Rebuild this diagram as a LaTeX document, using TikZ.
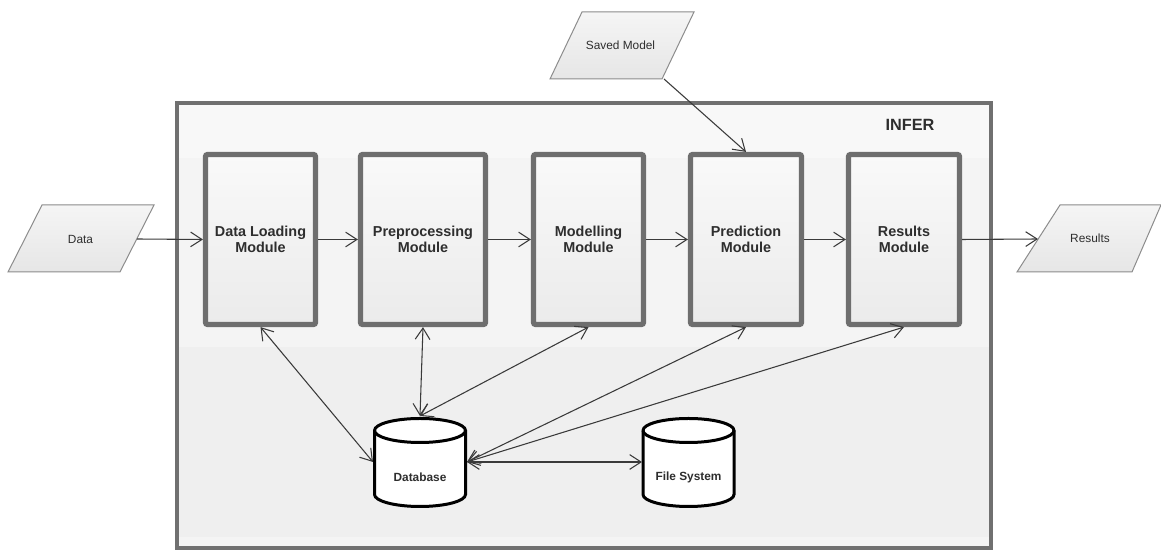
\documentclass[tikz,border=0pt]{standalone}
\usepackage{fontspec}
\setmainfont{Liberation Sans}
\usetikzlibrary{arrows.meta}
\definecolor{boxgray}{HTML}{6E6E6E}
\definecolor{outergray}{HTML}{707070}
\definecolor{modtop}{HTML}{F9F9F9}
\definecolor{modbot}{HTML}{EBEBEB}
\definecolor{textdark}{HTML}{2E2E2E}
\definecolor{linegray}{HTML}{3A3A3A}
\definecolor{paragray}{HTML}{8C8C8C}
\definecolor{paratop}{HTML}{F5F5F5}
\definecolor{parabot}{HTML}{E6E6E6}
\definecolor{bgA}{HTML}{F8F8F8}
\definecolor{bgB}{HTML}{F4F4F4}
\definecolor{bgC}{HTML}{EFEFEF}
\newcommand\drawcyl[4]{% center x, radius, ytop, ybot
  \path[cyl] (#1-#2,#3) -- (#1-#2,#4) arc (180:360:#2 and 12) -- (#1+#2,#3) arc (0:180:#2 and 12) -- cycle;
  \draw[cyl,fill=none] (#1-#2,#3) arc (180:360:#2 and 12);
}
\begin{document}
\begin{tikzpicture}[x=0.75pt,y=0.75pt,
  module/.style={draw=boxgray,line width=3.9pt,rounded corners=1.5pt,top color=modtop,bottom color=modbot,minimum height=127.5pt,align=center,text=textdark,font=\fontsize{10.8}{12}\selectfont\bfseries,inner sep=0pt},
  barb/.tip={Straight Barb[length=8.5pt,width=11pt]},
  conn/.style={draw=linegray,line width=0.8pt,-barb},
  biconn/.style={draw=linegray,line width=0.8pt,barb-barb},
  para/.style={draw=paragray,line width=0.75pt,top color=paratop,bottom color=parabot},
  iolabel/.style={font=\fontsize{8.9}{10}\selectfont,text=textdark},
  cyl/.style={draw=black,line width=2.25pt,fill=white},
  cyllabel/.style={font=\fontsize{8.9}{10}\selectfont\bfseries,text=textdark}]
\useasboundingbox (0,0) rectangle (1161,552);
% outer INFER container
\fill[bgC] (177,4) rectangle (991,449);
\fill[bgB] (177,205) rectangle (991,449);
\fill[bgA] (177,394) rectangle (991,449);
\fill[bgB] (177,4) rectangle (991,15);
\draw[outergray,line width=3pt] (177,4) rectangle (991,449);
\node[font=\fontsize{12.2}{14}\selectfont\bfseries,text=textdark] (infer) at (910,427) {INFER};
% modules
\node[module,minimum width=82.5pt]  (dl)   at (260.5,312.5) {Data Loading\\Module};
\node[module,minimum width=93.75pt] (pp)   at (423,312.5)   {Preprocessing\\Module};
\node[module,minimum width=82.5pt]  (mod)  at (588.5,312.5) {Modelling\\Module};
\node[module,minimum width=83.25pt] (pred) at (746,312.5)   {Prediction\\Module};
\node[module,minimum width=83.25pt] (res)  at (904,312.5)   {Results\\Module};
% input / output parallelograms
\draw[para] (8,280) -- (120,280) -- (154,347) -- (42,347) -- cycle;
\node[iolabel] (data) at (80.5,313) {Data};
\coordinate (dataout) at (137,313);
\draw[para] (550,473) -- (662,473) -- (694,540) -- (582,540) -- cycle;
\node[iolabel] (saved) at (620.5,507) {Saved Model};
\coordinate (savedout) at (664,473);
\draw[para] (1017,280) -- (1132,280) -- (1161,347) -- (1060,347) -- cycle;
\node[iolabel] (results) at (1090,314) {Results};
\coordinate (resultsin) at (1038,313);
% storage cylinders
\drawcyl{420}{45.5}{121.5}{57.5}
\drawcyl{688.5}{45.5}{121.5}{57.5}
\node[cyllabel] (db) at (420,75) {Database};
\node[cyllabel] (fs) at (688.5,75) {File System};
\coordinate (dbtop) at (420,136);
\coordinate (dbleft) at (373,90);
\coordinate (dbright) at (467,90);
\coordinate (fsleft) at (642,90);
% flow connectors
\draw[conn] (dataout) -- (dl.west);
\draw[conn] (dl.east) -- (pp.west);
\draw[conn] (pp.east) -- (mod.west);
\draw[conn] (mod.east) -- (pred.west);
\draw[conn] (pred.east) -- (res.west);
\draw[conn] (res.east) -- (resultsin);
\draw[conn] (savedout) -- (pred.north);
% database connectors
\draw[biconn] (dl.south) -- (dbleft);
\draw[biconn] (pp.south) -- (dbtop);
\draw[biconn] (mod.south) -- (dbtop);
\draw[biconn] (pred.south) -- (dbright);
\draw[biconn] (res.south) -- (dbright);
\draw[biconn] (dbright) -- (fsleft);
\end{tikzpicture}
\end{document}
